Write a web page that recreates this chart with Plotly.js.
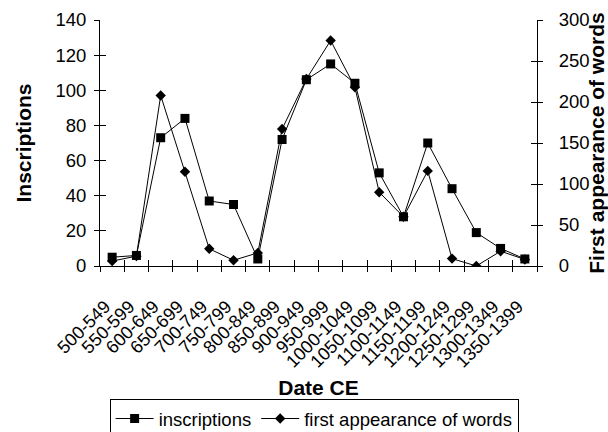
<!DOCTYPE html>
<html>
<head>
<meta charset="utf-8">
<script src="https://cdn.plot.ly/plotly-3.0.1.min.js"></script>
<style>
  html, body { margin: 0; padding: 0; background: #fff; }
  #chart { width: 608px; height: 432px; }
</style>
</head>
<body>
<div id="chart"></div>
<script>
// Half-century periods (CE)
const periods = ["500-549", "550-599", "600-649", "650-699", "700-749", "750-799",
  "800-849", "850-899", "900-949", "950-999", "1000-1049", "1050-1099",
  "1100-1149", "1150-1199", "1200-1249", "1250-1299", "1300-1349", "1350-1399"];

// Number of inscriptions per period (left axis)
const inscriptions = [5, 6, 73, 84, 37, 35, 4, 72, 106, 115, 104, 53, 28, 70, 44, 19, 10, 4];

// Number of words first attested per period (right axis)
const firstWords = [6, 12, 208, 115, 21, 7, 16, 167, 228, 275, 218, 90, 60, 116, 9, 0, 18, 8];

const FONT = "Liberation Sans, Arial, sans-serif";
const LEFT_RANGE = [0, 140];
const RIGHT_RANGE = [0, 300];

const traces = [
  {
    x: periods, y: inscriptions, name: "inscriptions",
    type: "scatter", mode: "lines+markers",
    line: { color: "#000", width: 1 },
    marker: { symbol: "square", size: 9, color: "#000" },
    xaxis: "x", yaxis: "y"
  },
  {
    x: periods, y: firstWords, name: "first appearance of words",
    type: "scatter", mode: "lines+markers",
    line: { color: "#000", width: 1 },
    marker: { symbol: "diamond", size: 8, color: "#000" },
    xaxis: "x", yaxis: "y2"
  },
  // Hidden companions: they carry the inner half of the crossing tick marks
  {
    x: periods, y: inscriptions, type: "scatter", mode: "markers",
    marker: { opacity: 0 }, showlegend: false, hoverinfo: "skip",
    xaxis: "x2", yaxis: "y3"
  },
  {
    x: periods, y: firstWords, type: "scatter", mode: "markers",
    marker: { opacity: 0 }, showlegend: false, hoverinfo: "skip",
    xaxis: "x", yaxis: "y4"
  }
];

const innerTicks = {
  ticks: "inside", ticklen: 6, tickcolor: "#000", tickwidth: 1,
  showticklabels: false, showline: false, showgrid: false, zeroline: false
};

const layout = {
  width: 608, height: 432,
  margin: { l: 100, r: 71, t: 20, b: 166 },
  paper_bgcolor: "#fff", plot_bgcolor: "#fff",
  font: { family: FONT, size: 18.5, color: "#000" },
  showlegend: true,
  legend: {
    orientation: "h", x: 0.49, xanchor: "center",
    yref: "container", y: (432 - 399) / 432, yanchor: "top",
    bordercolor: "#000", borderwidth: 1, font: { size: 18.5 },
    itemwidth: 38, tracegroupgap: 0
  },
  xaxis: {
    type: "category", range: [-0.5, 17.5], automargin: false,
    tickangle: -45, tickson: "boundaries",
    ticks: "outside", ticklen: 5, tickcolor: "#000",
    ticklabelstandoff: 22, ticklabelshift: -7,
    showline: true, linecolor: "#000", linewidth: 1,
    showgrid: false, zeroline: false,
    tickfont: { size: 18 },
    title: { text: "<b>Date CE</b>", font: { size: 21 }, standoff: 15 }
  },
  xaxis2: Object.assign({
    type: "category", range: [-0.5, 17.5], tickson: "boundaries",
    overlaying: "x", anchor: "y"
  }, innerTicks),
  yaxis: {
    range: LEFT_RANGE, dtick: 20, automargin: false,
    ticks: "outside", ticklen: 5, tickcolor: "#000", ticklabelstandoff: 4,
    showline: true, linecolor: "#000", linewidth: 1,
    showgrid: false, zeroline: false,
    title: { text: "<b>Inscriptions</b>", font: { size: 21 }, standoff: 18 }
  },
  yaxis2: {
    range: RIGHT_RANGE, dtick: 50, overlaying: "y", side: "right", automargin: false,
    ticks: "outside", ticklen: 5, tickcolor: "#000", ticklabelstandoff: 12,
    showline: true, linecolor: "#000", linewidth: 1,
    showgrid: false, zeroline: false,
    title: { text: "<b>First appearance of words</b>", font: { size: 21 }, standoff: 13 }
  },
  yaxis3: Object.assign({ range: LEFT_RANGE, dtick: 20, overlaying: "y", anchor: "x2" }, innerTicks),
  yaxis4: Object.assign({ range: RIGHT_RANGE, dtick: 50, overlaying: "y", side: "right" }, innerTicks)
};

Plotly.newPlot("chart", traces, layout, { staticPlot: true, displayModeBar: false });
</script>
</body>
</html>
